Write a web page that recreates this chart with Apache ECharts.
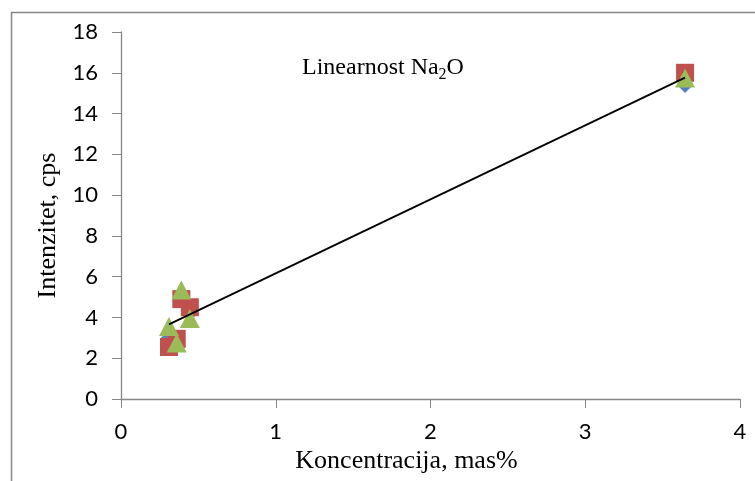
<!DOCTYPE html>
<html>
<head>
<meta charset="utf-8">
<script src="https://cdn.jsdelivr.net/npm/echarts@6/dist/echarts.min.js"></script>
<style>html,body{margin:0;padding:0;background:#fff}#c{width:755px;height:481px}</style>
</head>
<body>
<div id="c"></div>
<script>
const conc = [0.31, 0.36, 0.39, 0.445, 3.645];
const seriesBlue = [3.0, 2.8, 5.0, 4.2, 15.4];
const seriesRed = [2.55, 2.95, 4.9, 4.5, 16.0];
const seriesGreen = [3.55, 2.75, 5.35, 3.95, 15.75];
const xTicks = [0, 1, 2, 3, 4];
const yTicks = [0, 2, 4, 6, 8, 10, 12, 14, 16, 18];

function pairs(ys) { return conc.map((x, i) => [x, ys[i]]); }

// least-squares trend of green series
const n = conc.length;
const mx = conc.reduce((a, b) => a + b, 0) / n;
const my = seriesGreen.reduce((a, b) => a + b, 0) / n;
let sxy = 0, sxx = 0;
for (let i = 0; i < n; i++) { sxy += (conc[i] - mx) * (seriesGreen[i] - my); sxx += (conc[i] - mx) ** 2; }
const slope = sxy / sxx, icpt = my - slope * mx;
const xmin = Math.min(...conc), xmax = Math.max(...conc);
const trend = [[xmin, icpt + slope * xmin], [xmax, icpt + slope * xmax]];

const chart = echarts.init(document.getElementById('c'));
const axisCol = '#868686';
chart.setOption({
  animation: false,
  graphic: [{
    type: 'rect', left: 9, top: 10, shape: { width: 760, height: 490 },
    style: { fill: 'none', stroke: axisCol, lineWidth: 1.5 }, silent: true
  }],
  title: {
    left: 297, top: 48,
    text: '{a|Linearnost Na}{s|2}{a|O}',
    textStyle: {
      fontWeight: 'normal',
      rich: {
        a: { fontFamily: 'Liberation Serif', fontSize: 24, color: '#000', fontWeight: 'normal' },
        s: { fontFamily: 'Liberation Serif', fontSize: 16, color: '#000', fontWeight: 'normal', verticalAlign: 'bottom', padding: [14, 0, 0, 0] }
      }
    }
  },
  grid: { left: 121, right: 15, top: 32, bottom: 82 },
  xAxis: {
    type: 'value', min: 0, max: 4, interval: 1,
    name: 'Koncentracija, mas%', nameLocation: 'middle', nameGap: 40,
    nameTextStyle: { fontFamily: 'Liberation Serif', fontSize: 26, color: '#000', padding: [0, 48, 0, 0] },
    axisLine: { show: true, lineStyle: { color: axisCol, width: 1.3 } },
    axisTick: { show: true, length: 9, lineStyle: { color: axisCol } },
    axisLabel: { margin: 22, fontFamily: 'Lato', fontSize: 22, color: '#000',
      formatter: v => xTicks.includes(v) ? String(v) : '' },
    splitLine: { show: false }
  },
  yAxis: {
    type: 'value', min: 0, max: 18, interval: 2,
    name: 'Intenzitet, cps', nameLocation: 'middle', nameGap: 58, nameRotate: 90,
    nameTextStyle: { fontFamily: 'Liberation Serif', fontSize: 26, color: '#000', padding: [0, 20, 0, 0] },
    axisLine: { show: true, lineStyle: { color: axisCol, width: 1.3 } },
    axisTick: { show: true, length: 9, lineStyle: { color: axisCol } },
    axisLabel: { margin: 23, fontFamily: 'Lato', fontSize: 22, color: '#000',
      formatter: v => yTicks.includes(v) ? String(v) : '' },
    splitLine: { show: false }
  },
  series: [
    { type: 'scatter', data: pairs(seriesBlue), symbol: 'diamond', symbolSize: 16,
      itemStyle: { color: '#4F81BD', opacity: 1 }, z: 2 },
    { type: 'scatter', data: pairs(seriesRed), symbol: 'rect', symbolSize: 18,
      itemStyle: { color: '#C0504D', opacity: 1 }, z: 3 },
    { type: 'scatter', data: pairs(seriesGreen), symbol: 'triangle', symbolSize: [20, 19],
      itemStyle: { color: '#9BBB59', opacity: 1 }, z: 4 },
    { type: 'line', data: trend, symbol: 'none', lineStyle: { color: '#000', width: 1.8 }, z: 5 }
  ]
});
</script>
</body>
</html>
